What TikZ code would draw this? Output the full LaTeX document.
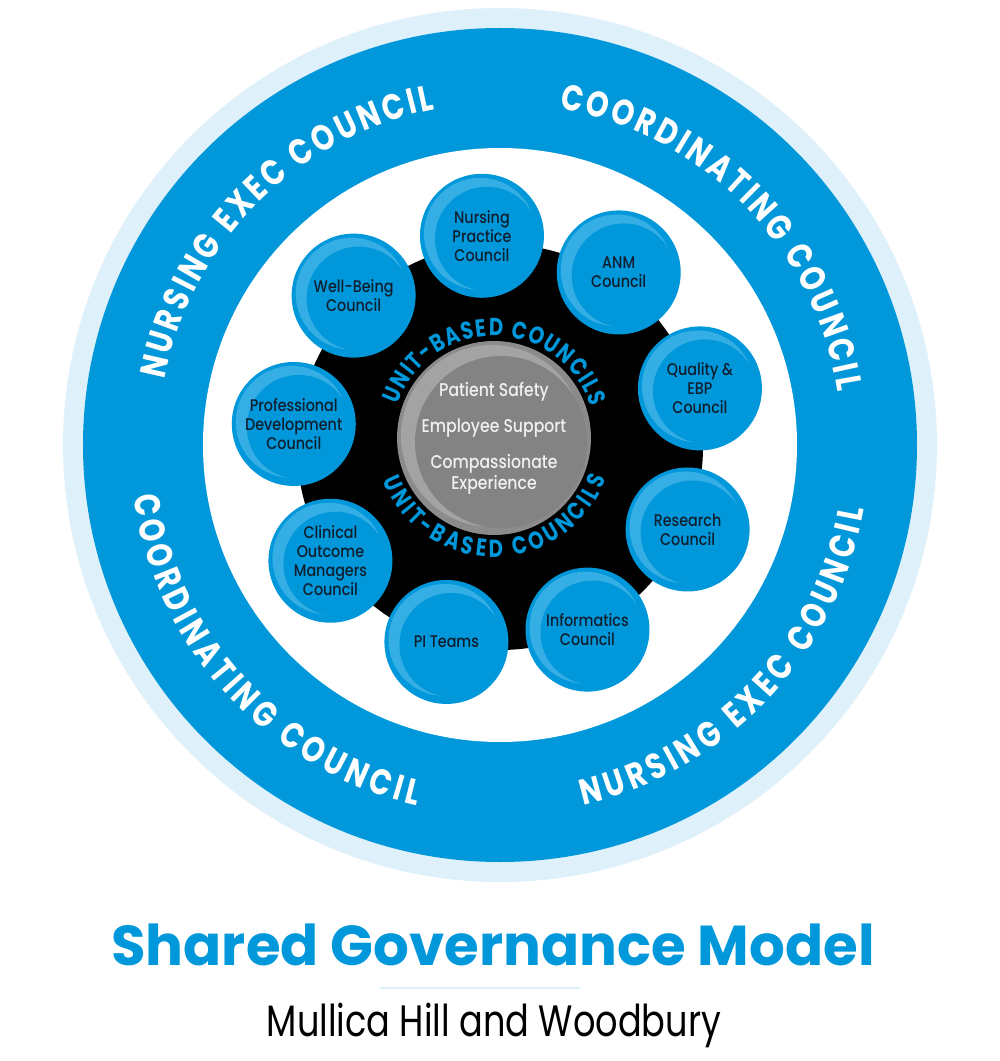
\documentclass[tikz,border=0pt]{standalone}
\usepackage{xcolor}
\usepackage{fontspec}
\setmainfont{Poppins}
\newfontfamily\condfont[FakeStretch=0.85]{Poppins}
\newfontfamily\narrowfont[FakeStretch=0.8]{Poppins}
\newfontfamily\medfont[FakeStretch=0.85]{Poppins Medium}
\usepackage{tikz}
\usetikzlibrary{decorations.text}

\definecolor{sgblue}{RGB}{0,152,218}
\definecolor{sglight}{RGB}{52,174,228}
\definecolor{sgpale}{RGB}{222,240,250}
\definecolor{sgnavy}{RGB}{16,30,45}
\definecolor{sggray}{RGB}{139,139,139}
\definecolor{sggraylt}{RGB}{163,163,163}
\definecolor{sggraydk}{RGB}{131,131,131}

\newcommand{\ringtext}{\narrowfont\bfseries\fontsize{20.5}{20.5}\selectfont\color{white}}
\newcommand{\unittext}{\narrowfont\bfseries\fontsize{14}{14}\selectfont\color{sgblue}}

\begin{document}
\begin{tikzpicture}[
    x=0.02cm, y=0.02cm,
    council/.style={circle, inner sep=0pt, minimum size=2.48cm, fill=sgblue,
        text=sgnavy, align=center, font=\medfont\fontsize{9.6}{10.8}\selectfont,
        path picture={
            \fill[sglight] ([shift={(-2,2)}]path picture bounding box.center) circle[radius=56];
            \fill[sgblue] ([shift={(5,-3)}]path picture bounding box.center) circle[radius=52];
        }},
    core/.style={circle, inner sep=0pt, minimum size=3.88cm, fill=sggray,
        path picture={
            \fill[sggraylt] ([shift={(-2,2)}]path picture bounding box.center) circle[radius=91];
            \fill[sggraydk] ([shift={(7,-4)}]path picture bounding box.center) circle[radius=86];
        }},
    coretext/.style={text=white!94!black, align=center, font=\medfont\fontsize{10.5}{10.8}\selectfont},
    ringlabel/.style={decorate, decoration={text along path, text align=fit to path, text={|\ringtext|#1}}},
    unitlabel/.style={decorate, decoration={text along path, text align=fit to path, text={|\unittext|#1}}}
]
\useasboundingbox (-500,-616) rectangle (500,445);

% Rings
\fill[sgpale] (0,0) circle[radius=437];
\fill[sgblue] (0,0) circle[radius=417];
\fill[white] (0,0) circle[radius=297];
\fill[black] (0,-2) circle[radius=203];

% Ring labels
\path[ringlabel=NURSING EXEC COUNCIL] (169:342) arc[start angle=169, end angle=101, radius=342];
\path[ringlabel=COORDINATING COUNCIL] (80:342) arc[start angle=80, end angle=9, radius=342];
\path[ringlabel=COORDINATING COUNCIL] (188:370) arc[start angle=188, end angle=257, radius=370];
\path[ringlabel=NURSING EXEC COUNCIL] (283:370) arc[start angle=283, end angle=350, radius=370];

% Councils
\begin{scope}[shift={(0,3)}]
\node[council] (npc) at (95:207) {Nursing\\Practice\\Council};
\node[council] (anm) at (55:207) {ANM\\Council};
\node[council] (qeb) at (15:207) {Quality \&\\EBP\\Council};
\node[council] (res) at (-25:207) {Research\\Council};
\node[council] (inf) at (-65:207) {Informatics\\Council};
\node[council] (pit) at (-105:207) {PI Teams};
\node[council] (com) at (-145:207) {Clinical\\Outcome\\Managers\\Council};
\node[council] (pdc) at (175:207) {Professional\\Development\\Council};
\node[council] (wbc) at (135:207) {Well-Being\\Council};
\end{scope}

% Core
\node[core] (hub) at (-6,7) {};
\node[coretext] (ps) at (-6,53) {Patient Safety};
\node[coretext] (es) at (-6,17) {Employee Support};
\node[coretext] (ce) at (-6,-29) {Compassionate\\Experience};

\path[unitlabel=UNIT-BASED COUNCILS, shift={(-6,7)}] (161:102) arc[start angle=161, end angle=18, radius=102];
\path[unitlabel=UNIT-BASED COUNCILS, shift={(-6,7)}] (201:119) arc[start angle=201, end angle=340, radius=119];

% Title
\node[text=sgblue, font=\bfseries\fontsize{32}{32}\selectfont] (title) at (-7,-500) {Shared Governance Model};
\draw[sgpale, line width=1.2pt] (-120,-543) -- (80,-543);
\node[font=\narrowfont\fontsize{25}{25}\selectfont] (place) at (-6,-580) {Mullica Hill and Woodbury};
\end{tikzpicture}
\end{document}
